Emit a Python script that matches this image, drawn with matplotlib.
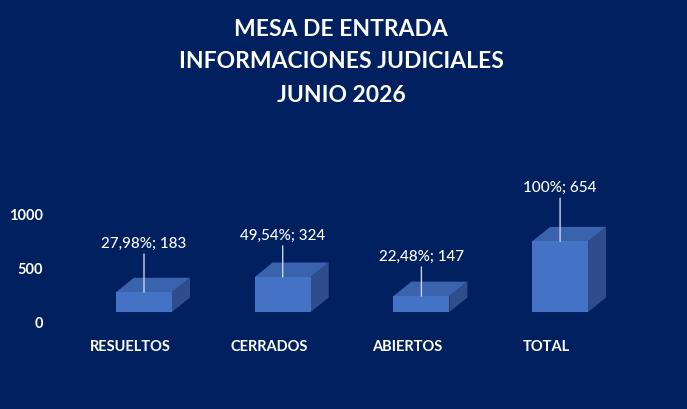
import numpy as np
import matplotlib
matplotlib.use("Agg")
import matplotlib.pyplot as plt
from matplotlib.patches import Polygon
import matplotlib.transforms as mtransforms

# data
categories = ["RESUELTOS", "CERRADOS", "ABIERTOS", "TOTAL"]
values = [183, 324, 147, 654]
total = values[-1]
y_ticks = [0, 500, 1000]
title_lines = ["MESA DE ENTRADA", "INFORMACIONES JUDICIALES", "JUNIO 2026"]

# how far above each bar its label sits (pixels), as in the original
label_lift_px = [48, 41, 39, 53]

bg = "#002060"
front_col = "#4472C4"
top_col = "#3B62AC"
side_col = "#2F4D8C"

plt.rcParams["font.family"] = ["Lato", "DejaVu Sans"]

W, H, dpi = 687, 409, 100
fig = plt.figure(figsize=(W / dpi, H / dpi), dpi=dpi, facecolor=bg)

# axes placed in pixels
ax_l, ax_r, ax_b, ax_t = 50, 650, 330, 170
ax = fig.add_axes([ax_l / W, (H - ax_b) / H, (ax_r - ax_l) / W, (ax_b - ax_t) / H])
ax.set_facecolor(bg)

px_per_x = 138.7
px_per_val = 54 / 500
x0_px = 144  # centre of first bar
ax.set_xlim((ax_l - x0_px) / px_per_x, (ax_r - x0_px) / px_per_x)
ax.set_ylim(-(ax_b - 312) / px_per_val, (312 - ax_t) / px_per_val)

bar_w = 56 / px_per_x
dx = 18 / px_per_x
dy = 14.5 / px_per_val

x = np.arange(len(categories))
for xi, v in zip(x, values):
    l, r = xi - bar_w / 2, xi + bar_w / 2
    ax.add_patch(Polygon([(r, 0), (r + dx, dy), (r + dx, v + dy), (r, v)],
                         closed=True, facecolor=side_col, edgecolor="none"))
    ax.add_patch(Polygon([(l, v), (r, v), (r + dx, v + dy), (l + dx, v + dy)],
                         closed=True, facecolor=top_col, edgecolor="none"))
    ax.add_patch(Polygon([(l, 0), (r, 0), (r, v), (l, v)],
                         closed=True, facecolor=front_col, edgecolor="none"))

for xi, v, lift in zip(x, values, label_lift_px):
    pct = f"{v / total * 100:.2f}".replace(".", ",")
    if v == total:
        pct = "100"
    ax.annotate(f"{pct}%; {v}", xy=(xi, v), xytext=(0, lift * 72 / dpi),
                textcoords="offset points", ha="center", va="center",
                color="white", fontsize=11, fontweight="medium",
                arrowprops=dict(arrowstyle="-", color="#C9D3E6", lw=1,
                                shrinkA=0, shrinkB=0))

ax.set_xticks(x)
ax.set_xticklabels(categories, fontsize=10.5, fontweight="bold", color="white")
ax.set_yticks(y_ticks)
ax.set_yticklabels([str(t) for t in y_ticks], fontsize=10.5, fontweight="bold",
                   color="white")
ax.tick_params(length=0)
ax.tick_params(axis="x", pad=7)
ax.tick_params(axis="y", pad=5)

# labels sit a little off the bars, following the perspective of the chart
xoff = mtransforms.ScaledTranslation(-14 / dpi, 0, fig.dpi_scale_trans)
for lab in ax.get_xticklabels():
    lab.set_transform(lab.get_transform() + xoff)
yoff = mtransforms.ScaledTranslation(0, -10 / dpi, fig.dpi_scale_trans)
for lab in ax.get_yticklabels():
    lab.set_transform(lab.get_transform() + yoff)

for s in ax.spines.values():
    s.set_visible(False)

for i, line in enumerate(title_lines):
    fig.text(341 / W, 1 - (29 + 33 * i) / H, line, ha="center", va="center",
             color="white", fontsize=16.5, fontweight="bold")

fig.savefig("out.png", dpi=dpi, facecolor=bg)
